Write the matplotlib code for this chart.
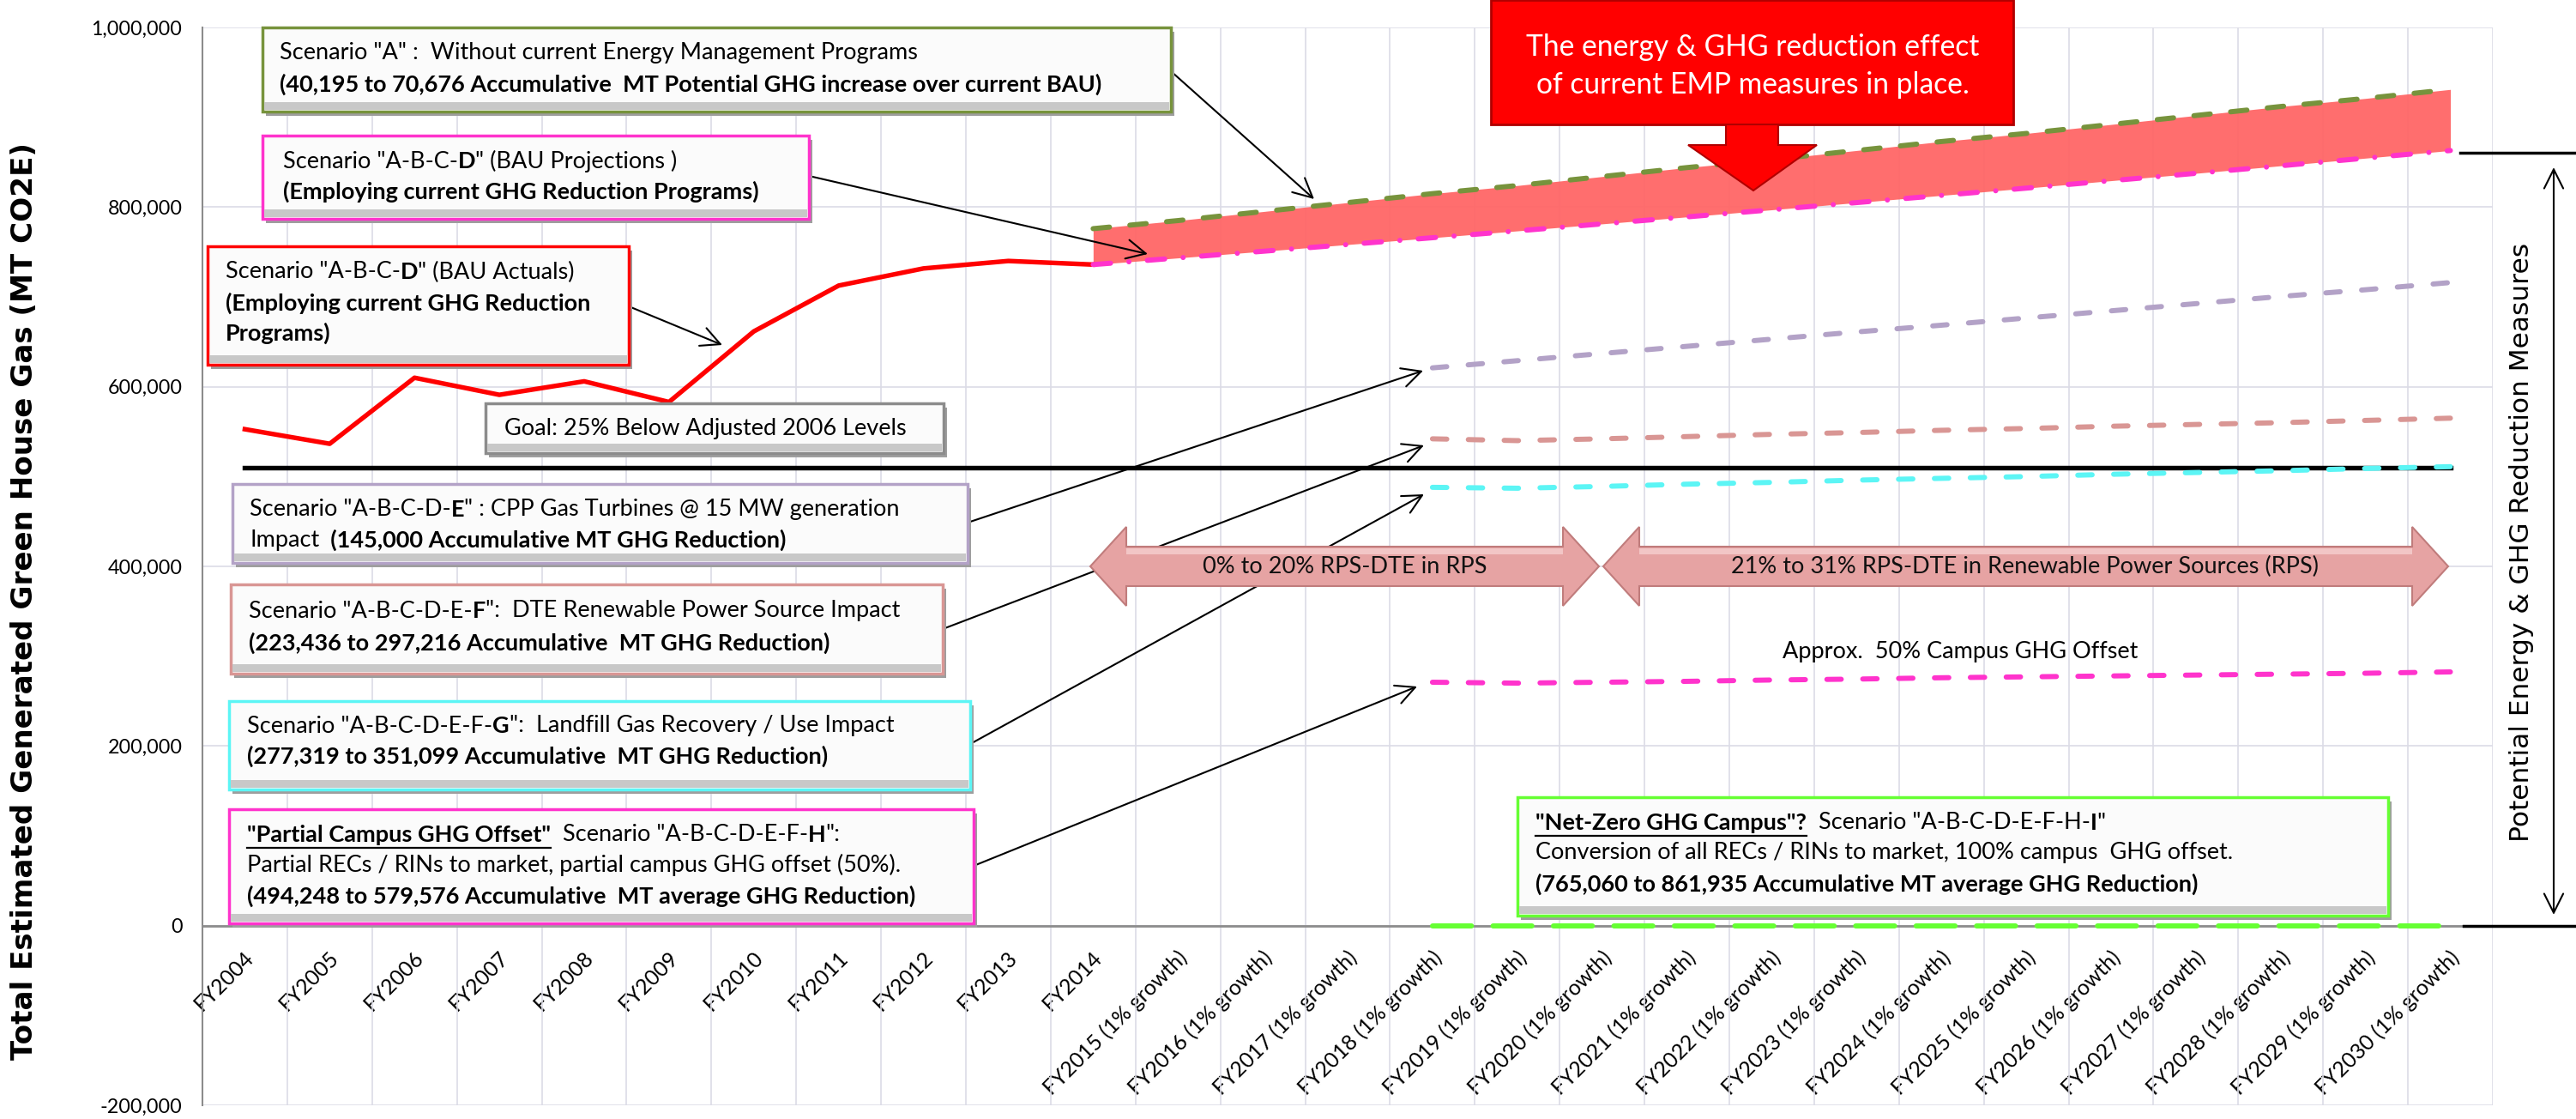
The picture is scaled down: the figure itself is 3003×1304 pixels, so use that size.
import matplotlib
matplotlib.use('Agg')
import matplotlib.pyplot as plt
from matplotlib.patches import Rectangle, Polygon, FancyArrowPatch
from matplotlib.ticker import FuncFormatter, MultipleLocator, FixedLocator
from matplotlib.transforms import ScaledTranslation
import numpy as np

W, H = 3003, 1304
BODY = ['Lato', 'DejaVu Sans']

categories = ['FY2004', 'FY2005', 'FY2006', 'FY2007', 'FY2008', 'FY2009',
              'FY2010', 'FY2011', 'FY2012', 'FY2013', 'FY2014',
              'FY2015 (1% growth)', 'FY2016 (1% growth)', 'FY2017 (1% growth)',
              'FY2018 (1% growth)', 'FY2019 (1% growth)', 'FY2020 (1% growth)',
              'FY2021 (1% growth)', 'FY2022 (1% growth)', 'FY2023 (1% growth)',
              'FY2024 (1% growth)', 'FY2025 (1% growth)', 'FY2026 (1% growth)',
              'FY2027 (1% growth)', 'FY2028 (1% growth)', 'FY2029 (1% growth)',
              'FY2030 (1% growth)']

# FY2004 - FY2014
bau_actual = [552700, 536500, 610000, 591000, 606000, 583000,
              661600, 712600, 731700, 740000, 736000]
# FY2014 - FY2030
scen_a = [776000, 785000, 795000, 805000, 815000, 824000, 834000, 844000, 853000,
          863000, 873000, 882000, 892000, 902000, 912000, 921000, 931000]
bau_proj = [736000, 743400, 750800, 758300, 765900, 773500, 781300, 789100, 797000,
            805000, 813000, 821100, 829400, 837600, 846000, 854500, 863000]
# FY2018 - FY2030
scen_e = [621000, 629000, 637000, 645000, 653000, 661000, 668500,
          676500, 684500, 692500, 700500, 708000, 716000]
scen_f = [542000, 540000, 542000, 544500, 547000, 549000, 551500,
          553500, 556000, 558000, 560000, 562500, 565000]
scen_g = [488000, 487000, 489000, 491500, 493500, 496000, 498000,
          500000, 502500, 504500, 506500, 509000, 511000]
scen_h = [271000, 270000, 271000, 272000, 273500, 274500, 276000,
          277000, 278000, 279000, 280000, 281000, 282500]
scen_i = [0, 0, 0, 0, 0, 0, 0, 0, 0, 0, 0, 0, 0]
goal_level = 510000

x_act = np.arange(0, 11)
x_proj = np.arange(10, 27)
x_scen = np.arange(14, 27)

fig = plt.figure(figsize=(W / 100, H / 100), dpi=100)
fig.patch.set_facecolor('white')
renderer = fig.canvas.get_renderer()


def fx(x):
    return x / W


def fy(y):
    return 1 - y / H


def fit_size(text, target, weight='normal', family=BODY, base=20):
    # font size that makes `text` about `target` pixels wide
    t = fig.text(0, 0, text, fontsize=base, fontweight=weight, family=family)
    w = t.get_window_extent(renderer).width
    t.remove()
    return base * target / w


BODY_SIZE = fit_size('Scenario "A" :  Without current Energy Management Programs', 746)
XTICK_SIZE = fit_size('FY2015 (1% growth)', 226)
YTICK_SIZE = fit_size('1,000,000', 105)
CALLOUT_SIZE = fit_size('The energy & GHG reduction effect', 530)
YLABEL_SIZE = fit_size('Total Estimated Generated Green House Gas (MT CO2E)', 1067,
                       weight='bold', family='DejaVu Sans')
RLABEL_SIZE = fit_size('Potential Energy & GHG Reduction Measures', 697,
                       family='DejaVu Sans')

ax = fig.add_axes([fx(236), fy(1288), (2906 - 236) / W, (1288 - 32) / H])
ax.spines['bottom'].set_position(('data', 0))

# band between BAU projection and scenario A
ax.fill_between(x_proj, bau_proj, scen_a, color='#FF6666', alpha=0.95, lw=0, zorder=2)

dash_kw = dict(lw=4.3, dash_capstyle='round', zorder=4)
ax.plot([0, 26], [goal_level, goal_level], color='black', lw=3.9, zorder=3)
ax.plot(x_act, bau_actual, color='#FF0000', lw=3.9, zorder=4)
ax.plot(x_proj, scen_a, color='#77933C', dashes=(3.2, 4.0), **dash_kw)
ax.plot(x_proj, bau_proj, color='#FF33CC', dashes=(3.4, 3.6, 0.01, 3.6), **dash_kw)
ax.plot(x_scen, scen_e, color='#B3A2C7', dashes=(2.8, 4.2), **dash_kw)
ax.plot(x_scen, scen_f, color='#D99694', dashes=(2.8, 4.2), **dash_kw)
ax.plot(x_scen, scen_g, color='#5CF5F5', dashes=(2.8, 4.2), **dash_kw)
ax.plot(x_scen, scen_h, color='#FF33CC', dashes=(2.8, 4.2), **dash_kw)
ax.plot(x_scen, scen_i, color='#66FF33', dashes=(7.6, 4.2), **dash_kw)

ax.set_xlim(-0.5, 26.5)
ax.set_ylim(-200000, 1000000)

ax.yaxis.set_major_locator(MultipleLocator(200000))
ax.yaxis.set_major_formatter(FuncFormatter(lambda v, p: f'{v:,.0f}'))
ax.xaxis.set_major_locator(FixedLocator(np.arange(27)))
ax.xaxis.set_minor_locator(FixedLocator(np.arange(-0.5, 27, 1)))
ax.tick_params(axis='y', length=0, pad=17, labelsize=YTICK_SIZE)
ax.tick_params(axis='x', which='both', length=0, pad=24)
ax.set_xticks(np.arange(27))
ax.set_xticklabels(categories, rotation=45, ha='right', va='center',
                   rotation_mode='anchor', family=BODY, fontsize=XTICK_SIZE)
for lab in ax.get_yticklabels():
    lab.set_family(BODY)
for lab in ax.get_xticklabels():
    lab.set_transform(lab.get_transform() + ScaledTranslation(0.07, 0, fig.dpi_scale_trans))

ax.grid(axis='y', which='major', color='#DCDCE6', lw=1.2, zorder=0)
ax.grid(axis='x', which='minor', color='#DCDCE6', lw=1.2, zorder=0)
ax.set_axisbelow(True)
ax.spines['top'].set_visible(False)
ax.spines['right'].set_visible(False)
ax.spines['left'].set_color('#8C8C8C')
ax.spines['left'].set_linewidth(1.5)
ax.spines['bottom'].set_color('#8C8C8C')
ax.spines['bottom'].set_linewidth(2)

fig.text(fx(29), fy(701), 'Total Estimated Generated Green House Gas (MT CO2E)',
         rotation=90, ha='center', va='center', fontsize=YLABEL_SIZE, fontweight='bold',
         family='DejaVu Sans')
fig.text(fx(2940), fy(632), 'Potential Energy & GHG Reduction Measures',
         rotation=90, ha='center', va='center', fontsize=RLABEL_SIZE, family='DejaVu Sans')


def draw_box(x0, y0, x1, y1, edge):
    shadow = Rectangle((fx(x0 + 4), fy(y1 + 5)), (x1 - x0) / W, (y1 - y0) / H,
                       transform=fig.transFigure, facecolor='#9E9E9E',
                       edgecolor='none', zorder=5)
    rect = Rectangle((fx(x0), fy(y1)), (x1 - x0) / W, (y1 - y0) / H,
                     transform=fig.transFigure, facecolor='#FBFBFB',
                     edgecolor=edge, lw=2.5, zorder=6)
    bevel = Rectangle((fx(x0 + 2), fy(y1 - 2)), (x1 - x0 - 4) / W, 9 / H,
                      transform=fig.transFigure, facecolor='#C8C8C8',
                      edgecolor='none', zorder=6.5)
    fig.add_artist(shadow)
    fig.add_artist(rect)
    fig.add_artist(bevel)


def rich_line(x, y, parts, color='black'):
    for part in parts:
        txt, weight = part[0], part[1]
        t = fig.text(fx(x), fy(y), txt, fontsize=BODY_SIZE, fontweight=weight,
                     family=BODY, ha='left', va='center', color=color, zorder=7)
        bb = t.get_window_extent(renderer)
        if len(part) > 2:
            fig.add_artist(plt.Line2D([fx(x), fx(x + bb.width)], [fy(y + 15), fy(y + 15)],
                                      transform=fig.transFigure, color='black',
                                      lw=1.6, zorder=7))
        x += bb.width


N, B = 'normal', 'bold'


def connector(p0, p1):
    arr = FancyArrowPatch((fx(p0[0]), fy(p0[1])), (fx(p1[0]), fy(p1[1])),
                          transform=fig.transFigure,
                          arrowstyle='->,head_length=0.8,head_width=0.4',
                          mutation_scale=20, color='black', lw=1.5,
                          shrinkA=0, shrinkB=0, zorder=3)
    fig.add_artist(arr)


# connectors from boxes to series
connector((1365, 83), (1532, 232))
connector((943, 205), (1338, 296))
connector((733, 357), (842, 402))
connector((1128, 609), (1659, 432))
connector((1099, 733), (1660, 519))
connector((1131, 867), (1660, 576))
connector((1135, 1009), (1652, 800))


def double_arrow(x0, x1, yc, label, tx):
    hl, bh, hh = 42, 23, 46
    pts = [(x0, yc), (x0 + hl, yc - hh), (x0 + hl, yc - bh), (x1 - hl, yc - bh),
           (x1 - hl, yc - hh), (x1, yc), (x1 - hl, yc + hh), (x1 - hl, yc + bh),
           (x0 + hl, yc + bh), (x0 + hl, yc + hh)]
    poly = Polygon([(fx(px), fy(py)) for px, py in pts], closed=True,
                   transform=fig.transFigure, facecolor='#E6A3A3',
                   edgecolor='#C07C7C', lw=1.5, zorder=4)
    fig.add_artist(poly)
    hi = Rectangle((fx(x0 + hl), fy(yc - bh + 9)), (x1 - x0 - 2 * hl) / W, 7 / H,
                   transform=fig.transFigure, facecolor='#F2C6C6',
                   edgecolor='none', zorder=4.2)
    fig.add_artist(hi)
    fig.text(fx(tx), fy(yc), label, ha='center', va='center', fontsize=BODY_SIZE,
             family=BODY, color='#111111', zorder=4.5)


double_arrow(1271, 1864, 660, '0% to 20% RPS-DTE in RPS', 1568)
double_arrow(1869, 2854, 660, '21% to 31% RPS-DTE in Renewable Power Sources (RPS)', 2361)

# text boxes
draw_box(306, 32, 1365, 130, '#77933C')
rich_line(326, 62, [('Scenario "A" :  Without current Energy Management Programs', N)])
rich_line(326, 98, [('(40,195 to 70,676 Accumulative  MT Potential GHG increase over current BAU)', B)])

draw_box(306, 158, 943, 255, '#FF33CC')
rich_line(330, 188, [('Scenario "A-B-C-', N), ('D', B), ('" (BAU Projections )', N)])
rich_line(330, 223, [('(Employing current GHG Reduction Programs)', B)])

draw_box(242, 287, 733, 425, '#FF0000')
rich_line(263, 317, [('Scenario "A-B-C-', N), ('D', B), ('" (BAU Actuals)', N)])
rich_line(263, 353, [('(Employing current GHG Reduction', B)])
rich_line(263, 388, [('Programs)', B)])

draw_box(566, 470, 1100, 528, '#8C8C8C')
rich_line(588, 499, [('Goal: 25% Below Adjusted 2006 Levels', N)])

draw_box(271, 564, 1128, 656, '#B3A2C7')
rich_line(291, 594, [('Scenario "A-B-C-D-', N), ('E', B), ('" : CPP Gas Turbines @ 15 MW generation', N)])
rich_line(291, 629, [('Impact', N), ('  (145,000 Accumulative MT GHG Reduction)', B)])

draw_box(269, 681, 1099, 785, '#D99694')
rich_line(290, 712, [('Scenario "A-B-C-D-E-', N), ('F', B), ('":  DTE Renewable Power Source Impact', N)])
rich_line(290, 749, [('(223,436 to 297,216 Accumulative  MT GHG Reduction)', B)])

draw_box(267, 817, 1131, 920, '#5CF5F5')
rich_line(288, 846, [('Scenario "A-B-C-D-E-F-', N), ('G', B), ('":  Landfill Gas Recovery / Use Impact', N)])
rich_line(288, 881, [('(277,319 to 351,099 Accumulative  MT GHG Reduction)', B)])

draw_box(267, 943, 1135, 1076, '#FF33CC')
rich_line(288, 973, [('"Partial Campus GHG Offset"', B, 'u'), ('  Scenario "A-B-C-D-E-F-', N),
                     ('H', B), ('":', N)])
rich_line(288, 1008, [('Partial RECs / RINs to market, partial campus GHG offset (50%).', N)])
rich_line(288, 1044, [('(494,248 to 579,576 Accumulative  MT average GHG Reduction)', B)])

draw_box(1769, 929, 2784, 1067, '#66FF33')
rich_line(1790, 959, [('"Net-Zero GHG Campus"?', B, 'u'), ('  Scenario "A-B-C-D-E-F-H-', N),
                      ('I', B), ('"', N)])
rich_line(1790, 994, [('Conversion of all RECs / RINs to market, 100% campus  GHG offset.', N)])
rich_line(1790, 1030, [('(765,060 to 861,935 Accumulative MT average GHG Reduction)', B)])

fig.text(fx(2078), fy(759), 'Approx.  50% Campus GHG Offset', ha='left', va='center',
         fontsize=BODY_SIZE, family=BODY)

# red callout
callout = Rectangle((fx(1738), fy(145)), (2347 - 1738) / W, 145 / H,
                    transform=fig.transFigure, facecolor='#FF0000',
                    edgecolor='#B00000', lw=2, zorder=8)
fig.add_artist(callout)
down = [(2012, 145), (2073, 145), (2073, 169), (2118, 169), (2044, 222),
        (1968, 169), (2012, 169)]
fig.add_artist(Polygon([(fx(px), fy(py)) for px, py in down], closed=True,
                       transform=fig.transFigure, facecolor='#FF0000',
                       edgecolor='#B00000', lw=1.5, zorder=8))
fig.text(fx(2043), fy(55), 'The energy & GHG reduction effect', ha='center', va='center',
         fontsize=CALLOUT_SIZE, family=BODY, color='white', zorder=9)
fig.text(fx(2043), fy(99), 'of current EMP measures in place.', ha='center', va='center',
         fontsize=CALLOUT_SIZE, family=BODY, color='white', zorder=9)

# right-hand bracket
fig.add_artist(plt.Line2D([fx(2868), fx(3003)], [fy(178), fy(178)],
                          transform=fig.transFigure, color='black', lw=2.5))
fig.add_artist(plt.Line2D([fx(2872), fx(3003)], [fy(1079), fy(1079)],
                          transform=fig.transFigure, color='black', lw=2.5))
fig.add_artist(FancyArrowPatch((fx(2977), fy(1066)), (fx(2977), fy(195)),
                               transform=fig.transFigure,
                               arrowstyle='<->,head_length=0.8,head_width=0.4',
                               mutation_scale=20, color='black', lw=1.5,
                               shrinkA=0, shrinkB=0))

fig.savefig('out.png', dpi=100)
